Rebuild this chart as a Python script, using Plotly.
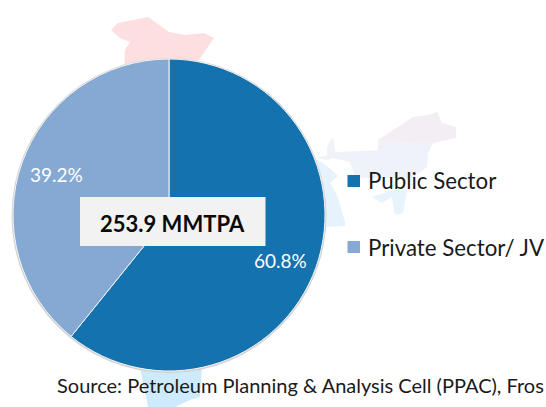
import plotly.graph_objects as go

W, H = 546, 407
categories = ["Public Sector", "Private Sector/ JV"]
shares = [60.8, 39.2]
colors = ["#1472AE", "#85A9D3"]
center_label = "253.9 MMTPA"
source_text = "Source: Petroleum Planning & Analysis Cell (PPAC), Fros"
FONT = "Lato, Carlito, sans-serif"

# pie geometry in pixels
cx, cy, r = 169, 215, 156


def px(x):
    return x / W


def py(y):
    return 1 - y / H


def poly(points, color):
    path = "M " + " L ".join(f"{px(x):.4f},{py(y):.4f}" for x, y in points) + " Z"
    return dict(type="path", path=path, xref="paper", yref="paper",
                fillcolor=color, line=dict(width=0), layer="below")


# faint India-map backdrop
map_pieces = [
    ([(111, 30), (118, 23), (148, 17), (169, 32), (185, 35), (204, 33), (214, 38), (199, 60),
      (175, 68), (124, 68), (125, 50), (130, 42), (120, 38)], "#FDDFE1"),
    ([(378, 140), (413, 117), (428, 115), (437, 112), (442, 123), (456, 127), (456, 138),
      (433, 143), (429, 146), (378, 150)], "#F3EEF4"),
    ([(317, 158), (327, 155), (327, 147), (333, 137), (335, 152), (383, 150), (378, 141),
      (433, 143), (428, 153), (427, 167), (413, 178), (355, 178), (353, 170), (350, 162),
      (333, 158), (327, 160)], "#F0F2F9"),
    ([(300, 160), (318, 160), (327, 166), (338, 176), (330, 183), (337, 195), (345, 222),
      (345, 226), (300, 228)], "#E6F3FD"),
    ([(372, 197), (393, 190), (407, 190), (403, 213), (395, 215), (392, 197), (382, 203)], "#E8F4FC"),
    ([(140, 368), (202, 368), (200, 397), (190, 400), (175, 407), (148, 407)], "#CDEBFD"),
]

shapes = [poly(p, c) for p, c in map_pieces]

# thin grey rim round the pie
shapes.append(dict(type="circle", xref="paper", yref="paper", layer="below",
                   x0=px(cx - r - 1.5), x1=px(cx + r + 1.5),
                   y0=py(cy + r + 2), y1=py(cy - r - 1),
                   fillcolor="#D2D2D2", line=dict(width=0)))

# central label box (above the pie)
shapes.append(dict(type="rect", xref="paper", yref="paper", layer="above",
                   x0=px(80), x1=px(265.5), y0=py(246), y1=py(197),
                   fillcolor="#F2F2F2", line=dict(width=0)))

# legend swatches
legend_y = [181, 247]
for yy, col in zip(legend_y, colors):
    shapes.append(dict(type="rect", xref="paper", yref="paper", layer="above",
                       x0=px(347.5), x1=px(360), y0=py(yy + 6), y1=py(yy - 6),
                       fillcolor=col, line=dict(width=0)))


def text(x, y, s, size, color, anchor="left", bold=False):
    return dict(x=px(x), y=py(y), xref="paper", yref="paper", text=f"<b>{s}</b>" if bold else s,
                showarrow=False, xanchor=anchor, yanchor="middle",
                font=dict(family=FONT, size=size, color=color))


annotations = [
    text(172.5, 223, center_label, 22, "#0A0A0A", "center", True),
    text(280, 260, f"{shares[0]:.1f}%", 19, "#FFFFFF", "center"),
    text(56, 174, f"{shares[1]:.1f}%", 19, "#FFFFFF", "center"),
    text(366, 181, categories[0], 22.3, "#1A1A1A"),
    text(366, 247, categories[1], 22.3, "#1A1A1A"),
    text(55, 385, source_text, 20, "#1A1A1A"),
]

fig = go.Figure(go.Pie(
    labels=categories, values=shares, sort=False, direction="clockwise", rotation=0,
    marker=dict(colors=colors, line=dict(color="#F4F4F4", width=1)),
    textinfo="none", hoverinfo="label+percent", showlegend=False,
    domain=dict(x=[px(cx - r), px(cx + r)], y=[py(cy + r), py(cy - r)]),
))
fig.update_layout(width=W, height=H, margin=dict(l=0, r=0, t=0, b=0),
                  paper_bgcolor="#FFFFFF", shapes=shapes, annotations=annotations,
                  showlegend=False)
fig.write_html("out.html", config=dict(displayModeBar=False),
               post_script="document.body.style.margin='0';document.documentElement.style.overflow='hidden';")
